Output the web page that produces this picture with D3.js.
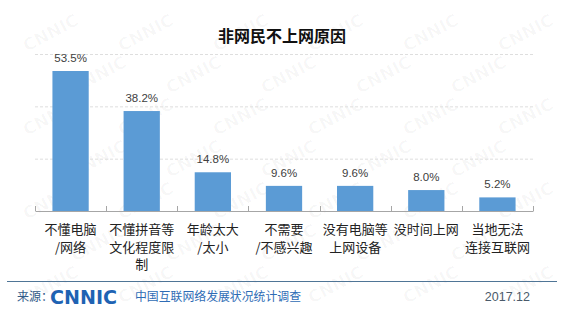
<!DOCTYPE html>
<html><head><meta charset="utf-8">
<script src="https://cdn.jsdelivr.net/npm/d3@7"></script>
<style>html,body{margin:0;padding:0;background:#fff;}svg{display:block;}</style>
</head><body>
<script>
const title = "非网民不上网原因";
const categories = ["不懂电脑\n/网络","不懂拼音等\n文化程度限\n制","年龄太大\n/太小","不需要\n/不感兴趣","没有电脑等\n上网设备","没时间上网","当地无法\n连接互联网"];
const values = [53.5, 38.2, 14.8, 9.6, 9.6, 8.0, 5.2];
const yTicks = [20, 40, 60];
const sourceLabel = "来源：";
const logoText = "CNNIC";
const sourceText = "中国互联网络发展状况统计调查";
const dateText = "2017.12";

(function () {
const W = 569, H = 324;
const svg = d3.select("body").append("svg").attr("width", W).attr("height", H);
svg.append("rect").attr("width", W).attr("height", H).attr("fill", "#fff");

// faint watermark (only copies fully inside the picture)
const wm = svg.append("g").attr("fill", "#000").attr("fill-opacity", 0.03)
  .attr("font-family", "DejaVu Sans, sans-serif").attr("font-weight", "bold").attr("font-size", 17);
for (let r = 0; r < 9; r++) {
  for (let c = 0; c < 8; c++) {
    const x = c * 95 + (r % 2) * 47 - 20, yy = r * 42 + 10;
    const t = wm.append("text").attr("transform", `translate(${x},${yy}) rotate(-28)`).text(logoText);
    const b = t.node().getBoundingClientRect();
    if (b.left < 1 || b.top < 1 || b.right > W - 1 || b.bottom > H - 1) t.remove();
  }
}

const plotLeft = 35, plotRight = 533, plotTop = 54, base = 211;
const xBand = d3.scaleBand().domain(categories).range([plotLeft, plotRight]).padding(0);
const xBar = d3.scaleBand().domain(categories).range([plotLeft, plotRight]).paddingInner(0.49).paddingOuter(0.245);
const y = d3.scaleLinear().domain([0, 60]).range([base, plotTop]);

// gridlines
svg.append("g").selectAll("line").data(yTicks).join("line")
  .attr("x1", plotLeft).attr("x2", plotRight)
  .attr("y1", d => y(d) + 0.5).attr("y2", d => y(d) + 0.5)
  .attr("stroke", "#dedede").attr("stroke-width", 1).attr("stroke-dasharray", "3,2");

// title
svg.append("text").attr("x", 282).attr("y", 42).attr("text-anchor", "middle")
  .attr("font-family", "Noto Sans CJK SC, sans-serif").attr("font-weight", "bold")
  .attr("font-size", 16).attr("fill", "#111").text(title);

// bars
svg.append("g").selectAll("rect").data(values).join("rect")
  .attr("x", (d, i) => xBar(categories[i])).attr("width", xBar.bandwidth())
  .attr("y", d => y(d)).attr("height", d => base - y(d))
  .attr("fill", "#5b9bd5");

// value labels
svg.append("g").selectAll("text").data(values).join("text")
  .attr("x", (d, i) => xBar(categories[i]) + xBar.bandwidth() / 2)
  .attr("y", d => y(d) - 9)
  .attr("text-anchor", "middle")
  .attr("font-family", "Liberation Sans, Arial, sans-serif").attr("font-size", 11.5)
  .attr("fill", "#404040").text(d => d.toFixed(1) + "%");

// axis
const axis = svg.append("g").attr("transform", `translate(0,${base})`)
  .call(d3.axisBottom(xBand).tickSize(0).tickFormat(""));
axis.select(".domain").attr("stroke", "#a6a6a6");
const boundaries = categories.map(c => xBand(c)).concat([plotRight]);
svg.append("g").selectAll("line").data(boundaries).join("line")
  .attr("x1", d => Math.round(d) + 0.5).attr("x2", d => Math.round(d) + 0.5)
  .attr("y1", base - 5).attr("y2", base).attr("stroke", "#a6a6a6");

// category labels
const lab = svg.append("g").attr("font-family", "Noto Sans CJK SC, sans-serif")
  .attr("font-size", 13).attr("fill", "#222").attr("text-anchor", "middle");
categories.forEach(c => {
  const cx = xBand(c) + xBand.bandwidth() / 2;
  const t = lab.append("text").attr("x", cx).attr("y", 234);
  c.split("\n").forEach((line, i) => {
    t.append("tspan").attr("x", cx).attr("dy", i === 0 ? 0 : 17.5).text(line);
  });
});

// footer
svg.append("line").attr("x1", 7).attr("x2", 557).attr("y1", 281.5).attr("y2", 281.5)
  .attr("stroke", "#4f7596").attr("stroke-width", 1.2);
svg.append("text").attr("x", 17).attr("y", 301).attr("font-family", "Noto Sans CJK SC, sans-serif")
  .attr("font-size", 12).attr("fill", "#2f5a88").text(sourceLabel);
svg.append("text").attr("x", 50).attr("y", 303.5).attr("font-family", "DejaVu Sans, sans-serif")
  .attr("font-weight", "bold").attr("font-size", 19).attr("fill", "#1f63b3")
  .attr("textLength", 67).attr("lengthAdjust", "spacingAndGlyphs").text(logoText);
svg.append("text").attr("x", 135).attr("y", 301).attr("font-family", "Noto Sans CJK SC, sans-serif")
  .attr("font-size", 12).attr("fill", "#2e6cb5").attr("textLength", 166).attr("lengthAdjust", "spacingAndGlyphs").text(sourceText);
svg.append("text").attr("x", 530).attr("y", 301).attr("text-anchor", "end")
  .attr("font-family", "Liberation Sans, Arial, sans-serif").attr("font-size", 12.5)
  .attr("fill", "#4a5a6a").text(dateText);
})();
</script>
</body></html>
